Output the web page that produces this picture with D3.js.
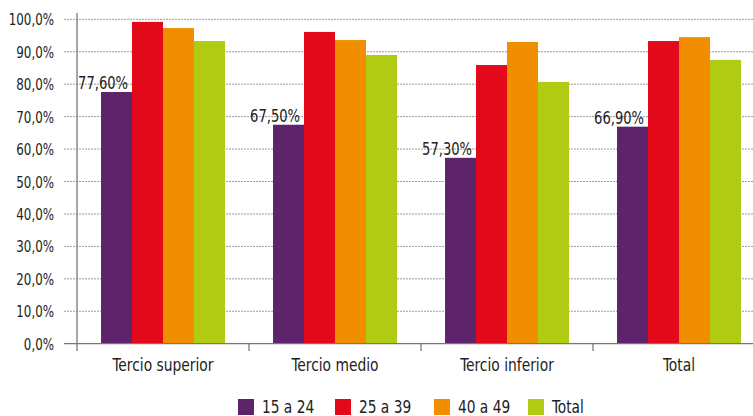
<!DOCTYPE html>
<html><head><meta charset="utf-8">
<script src="https://cdn.jsdelivr.net/npm/d3@7"></script>
<style>
body{margin:0;background:#fff;}
text{font-family:"DejaVu Sans Condensed","Liberation Sans Narrow",sans-serif;fill:#222;}
</style></head>
<body><svg id="c" width="753" height="416"></svg>
<script>
const categories = ["Tercio superior","Tercio medio","Tercio inferior","Total"];
const seriesNames = ["15 a 24","25 a 39","40 a 49","Total"];
const s15a24 = [77.6, 67.5, 57.3, 66.9];
const s25a39 = [99.2, 96.1, 85.9, 93.3];
const s40a49 = [97.3, 93.6, 93.0, 94.5];
const sTotal = [93.3, 89.0, 80.7, 87.5];
const yTicks = [0,10,20,30,40,50,60,70,80,90,100];
const colors = ["#5E246B","#E20A1A","#F08E00","#B1CA12"];
const series = [s15a24, s25a39, s40a49, sTotal];

const svg = d3.select("#c");
const x0 = 77, yBase = 343.7, yTop = 19.3;
const x = d3.scaleBand().domain(categories).range([x0, x0 + 172*4]).paddingInner(0).paddingOuter(0);
const xi = d3.scaleBand().domain(seriesNames).range([0, x.bandwidth()]).paddingOuter(0.775).paddingInner(0);
const y = d3.scaleLinear().domain([0,100]).range([yBase, yTop]);
const fmt = v => v.toFixed(1).replace(".", ",") + "%";

function txt(sel, tx, ty, sx, anchor, size, s) {
  return sel.append("text")
    .attr("transform", `translate(${tx},${ty}) scale(${sx},1)`)
    .attr("text-anchor", anchor).style("font-size", size + "px").text(s);
}

// grid
svg.append("g").selectAll("line").data(yTicks.filter(t=>t>0)).join("line")
  .attr("x1", 64).attr("x2", 753).attr("y1", d=>y(d)).attr("y2", d=>y(d))
  .attr("stroke", "#9a9a9a").attr("stroke-width", 1).attr("stroke-dasharray", "2,1");

// y labels
const gy = svg.append("g");
yTicks.forEach(t => txt(gy, 54, y(t) + 6, 0.8, "end", 16.5, fmt(t)));

// bars
const g = svg.append("g");
series.forEach((vals, si) => {
  g.selectAll(null).data(vals).join("rect")
    .attr("x", (d,i)=> x(categories[i]) + xi(seriesNames[si]))
    .attr("width", xi.bandwidth())
    .attr("y", d=>y(d)).attr("height", d=>yBase - y(d))
    .attr("fill", colors[si]);
});

// value labels for first series
const gl = svg.append("g");
s15a24.forEach((d,i) => txt(gl, x(categories[i]) + xi(seriesNames[0]) + xi.bandwidth() - 4, y(d) - 3, 0.81, "end", 18,
  d.toFixed(2).replace(".", ",") + "%"));

// axes lines
svg.append("line").attr("x1", x0).attr("x2", x0).attr("y1", 13).attr("y2", 351)
  .attr("stroke","#777").attr("stroke-width",1.3);
svg.append("line").attr("x1", 64).attr("x2", 753).attr("y1", yBase).attr("y2", yBase)
  .attr("stroke","#777").attr("stroke-width",1.3);
svg.append("g").selectAll("line").data(categories.slice(1)).join("line")
  .attr("x1", d=>x(d)).attr("x2", d=>x(d)).attr("y1", yBase).attr("y2", 351)
  .attr("stroke","#555").attr("stroke-width",1);

// category labels
const gc = svg.append("g");
categories.forEach(c => txt(gc, x(c) + x.bandwidth()/2, 371, 0.88, "middle", 17.5, c));

// legend
const legX = [238, 335, 434, 528];
const leg = svg.append("g");
seriesNames.forEach((n,i)=>{
  leg.append("rect").attr("x", legX[i]).attr("y", 399).attr("width", 16).attr("height", 16).attr("fill", colors[i]);
  txt(leg, legX[i] + 24, 413, 0.9, "start", 17, n);
});
</script></body></html>
